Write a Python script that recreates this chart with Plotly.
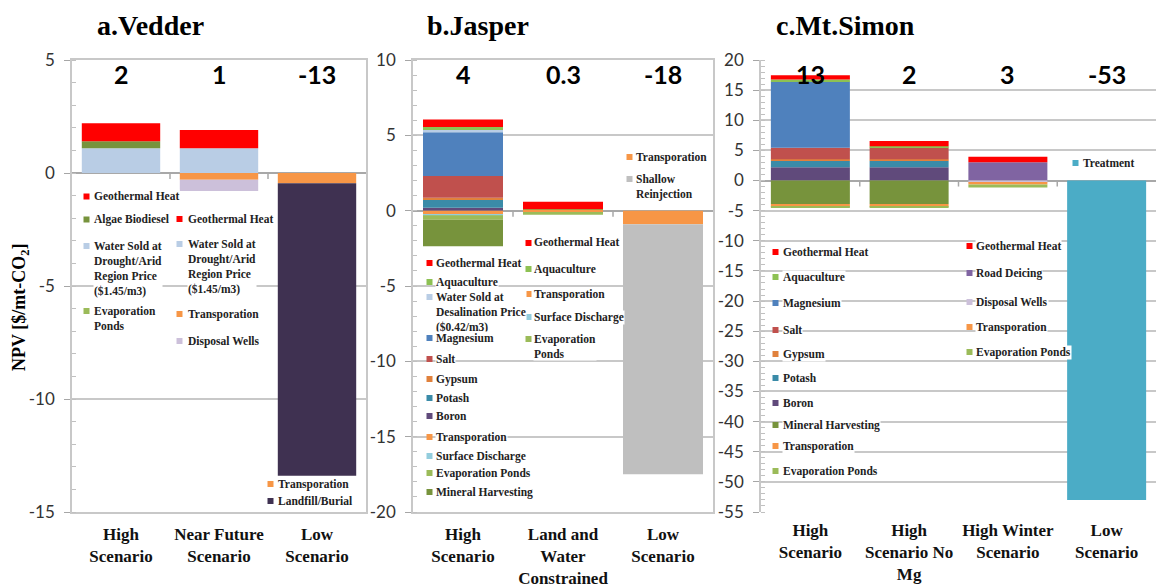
import plotly.graph_objects as go

W, H = 1156, 587

# ---------------- data ----------------
vedder_cats = ["High<br>Scenario", "Near Future<br>Scenario", "Low<br>Scenario"]
vedder_water = [1.1, 1.1, 0]
vedder_algae = [0.3, 0, 0]
vedder_geo = [0.8, 0.8, 0]
vedder_transport = [0, -0.3, -0.45]
vedder_disposal = [0, -0.5, 0]
vedder_landfill = [0, 0, -12.95]
vedder_totals = ["2", "1", "-13"]
vedder_yticks = [5, 0, -5, -10, -15]

jasper_cats = ["High<br>Scenario", "Land and<br>Water<br>Constrained", "Low<br>Scenario"]
jasper_boron = [0.2, 0, 0]
jasper_potash = [0.52, 0, 0]
jasper_gypsum = [0.13, 0, 0]
jasper_salt = [1.45, 0, 0]
jasper_magnesium = [2.9, 0, 0]
jasper_water = [0.15, 0, 0]
jasper_aqua = [0.2, 0.1, 0]
jasper_geo = [0.5, 0.5, 0]
jasper_transport = [-0.25, -0.12, -0.9]
jasper_surface = [-0.05, -0.03, 0]
jasper_evap = [-0.3, -0.12, 0]
jasper_mineral = [-1.77, 0, 0]
jasper_reinject = [0, 0, -16.6]
jasper_totals = ["4", "0.3", "-18"]
jasper_yticks = [10, 5, 0, -5, -10, -15, -20]

simon_cats = ["High<br>Scenario", "High<br>Scenario No<br>Mg", "High Winter<br>Scenario", "Low<br>Scenario"]
simon_boron = [2.2, 2.2, 0, 0]
simon_potash = [1.1, 1.1, 0, 0]
simon_gypsum = [0.25, 0.25, 0, 0]
simon_salt = [1.9, 1.95, 0, 0]
simon_magnesium = [11.0, 0, 0, 0]
simon_aqua = [0.3, 0.2, 0, 0]
simon_deicing = [0, 0, 3.05, 0]
simon_geo = [0.7, 0.85, 0.9, 0]
simon_disposal = [0, 0, -0.35, 0]
simon_mineral = [-3.9, -3.9, 0, 0]
simon_transport = [-0.45, -0.45, -0.3, 0]
simon_evap = [-0.15, -0.15, -0.5, 0]
simon_treatment = [0, 0, 0, -53]
simon_totals = ["13", "2", "3", "-53"]
simon_yticks = [20, 15, 10, 5, 0, -5, -10, -15, -20, -25, -30, -35, -40, -45, -50, -55]

panel_titles = ["a.Vedder", "b.Jasper", "c.Mt.Simon"]
y_title = "NPV [$/mt-CO<sub>2</sub>]"

# colours
C_GEO = "#FF0000"
C_ALGAE = "#77933C"
C_WATER = "#B9CDE5"
C_EVAP = "#9BBB59"
C_TRANS = "#F79646"
C_DISP = "#CCC0DA"
C_LAND = "#3F3151"
C_AQUA = "#8DC153"
C_MG = "#4F81BD"
C_SALT = "#C0504D"
C_GYP = "#E0813C"
C_POT = "#3A8BA8"
C_BORON = "#604A7B"
C_SURF = "#93CDDD"
C_MIN = "#77933C"
C_REINJ = "#BFBFBF"
C_DEICE = "#8064A2"
C_TREAT = "#4BACC6"

# legend texts
leg_a1 = [("Geothermal Heat", C_GEO), ("Algae Biodiesel", C_ALGAE),
          ("Water Sold at<br>Drought/Arid<br>Region Price<br>($1.45/m3)", C_WATER),
          ("Evaporation<br>Ponds", C_EVAP)]
leg_a2 = [("Geothermal Heat", C_GEO),
          ("Water Sold at<br>Drought/Arid<br>Region Price<br>($1.45/m3)", C_WATER),
          ("Transporation", C_TRANS), ("Disposal Wells", C_DISP)]
leg_a3 = [("Transporation", C_TRANS), ("Landfill/Burial", C_LAND)]
leg_b1 = [("Geothermal Heat", C_GEO), ("Aquaculture", C_AQUA),
          ("Water Sold at<br>Desalination Price<br>($0.42/m3)", C_WATER),
          ("Magnesium", C_MG), ("Salt", C_SALT), ("Gypsum", C_GYP), ("Potash", C_POT),
          ("Boron", C_BORON), ("Transporation", C_TRANS), ("Surface Discharge", C_SURF),
          ("Evaporation Ponds", C_EVAP), ("Mineral Harvesting", C_MIN)]
leg_b2 = [("Geothermal Heat", C_GEO), ("Aquaculture", C_AQUA), ("Transporation", C_TRANS),
          ("Surface Discharge", C_SURF), ("Evaporation<br>Ponds", C_EVAP)]
leg_b3 = [("Transporation", C_TRANS), ("Shallow<br>Reinjection", C_REINJ)]
leg_c1 = [("Geothermal Heat", C_GEO), ("Aquaculture", C_AQUA), ("Magnesium", C_MG),
          ("Salt", C_SALT), ("Gypsum", C_GYP), ("Potash", C_POT), ("Boron", C_BORON),
          ("Mineral Harvesting", C_MIN), ("Transporation", C_TRANS), ("Evaporation Ponds", C_EVAP)]
leg_c2 = [("Geothermal Heat", C_GEO), ("Road Deicing", C_DEICE), ("Disposal Wells", C_DISP),
          ("Transporation", C_TRANS), ("Evaporation Ponds", C_EVAP)]
leg_c3 = [("Treatment", C_TREAT)]

# ---------------- layout helpers ----------------
def PX(p):
    return p / W


def PY(p):
    return 1 - p / H


TOP, BOT = 60, 512
GRID = "#C8C8C8"
TICKC = "#A6A6A6"
SERIF = "Liberation Serif, Times New Roman, serif"
SANS = "Lato, Liberation Sans, sans-serif"

fig = go.Figure()

panels = [
    dict(ax="", cats=vedder_cats, yticks=vedder_yticks, left=72, right=366, frame=True,
         series=[(vedder_water, C_WATER), (vedder_algae, C_ALGAE), (vedder_geo, C_GEO),
                 (vedder_transport, C_TRANS), (vedder_disposal, C_DISP), (vedder_landfill, C_LAND)],
         totals=vedder_totals, title_x=150),
    dict(ax="2", cats=jasper_cats, yticks=jasper_yticks, left=413, right=713, frame=True,
         series=[(jasper_boron, C_BORON), (jasper_potash, C_POT), (jasper_gypsum, C_GYP),
                 (jasper_salt, C_SALT), (jasper_magnesium, C_MG), (jasper_water, C_WATER),
                 (jasper_aqua, C_AQUA), (jasper_geo, C_GEO),
                 (jasper_transport, C_TRANS), (jasper_surface, C_SURF), (jasper_evap, C_EVAP),
                 (jasper_mineral, C_MIN), (jasper_reinject, C_REINJ)],
         totals=jasper_totals, title_x=478),
    dict(ax="3", cats=simon_cats, yticks=simon_yticks, left=761, right=W, frame=False,
         series=[(simon_boron, C_BORON), (simon_potash, C_POT), (simon_gypsum, C_GYP),
                 (simon_salt, C_SALT), (simon_magnesium, C_MG), (simon_aqua, C_AQUA),
                 (simon_deicing, C_DEICE), (simon_geo, C_GEO),
                 (simon_disposal, C_DISP), (simon_mineral, C_MIN), (simon_transport, C_TRANS),
                 (simon_evap, C_EVAP), (simon_treatment, C_TREAT)],
         totals=simon_totals, title_x=845),
]

shapes = []
annotations = []

for i, p in enumerate(panels):
    n = len(p["cats"])
    xs = list(range(n))
    xa, ya = "x" + p["ax"], "y" + p["ax"]
    rng = [min(p["yticks"]), max(p["yticks"])]
    for vals, col in p["series"]:
        fig.add_trace(go.Bar(x=xs, y=vals, marker=dict(color=col, line=dict(width=0)),
                             xaxis=xa, yaxis=ya, showlegend=False, hoverinfo="skip"))
    xkey = "xaxis" + p["ax"]
    ykey = "yaxis" + p["ax"]
    fig.layout[xkey] = dict(
        domain=[PX(p["left"]), min(1.0, PX(p["right"]))], anchor=ya, automargin=False,
        range=[-0.5, n - 0.5], tickvals=xs, ticktext=p["cats"], ticks="",
        ticklabelstandoff=6,
        showgrid=False, zeroline=False, showline=p["frame"], mirror=p["frame"], linecolor=GRID,
        linewidth=1.5, tickfont=dict(family=SERIF, size=17, color="#111", weight="bold"),
        fixedrange=True)
    fig.layout[ykey] = dict(
        domain=[PY(BOT), PY(TOP)], anchor=xa, range=rng, automargin=False,
        tickvals=p["yticks"], ticktext=[str(v) for v in p["yticks"]],
        showgrid=True, gridcolor=GRID, gridwidth=1.5,
        zeroline=True, zerolinecolor="#A8A8A8", zerolinewidth=1.5,
        ticks="outside", ticklen=6, tickcolor=TICKC, ticklabelstandoff=6,
        minor=dict(tick0=0, dtick=1, ticks="inside", ticklen=4, tickcolor="#C0C0C0",
                   showgrid=False),
        showline=True, mirror=p["frame"], linecolor=GRID, linewidth=1.5,
        tickfont=dict(family=SANS, size=17, color="#333"), fixedrange=True)
    # category boundary tick marks on the zero line
    scale = (BOT - TOP) / (rng[1] - rng[0])
    for k in range(n - 1):
        shapes.append(dict(type="line", xref=xa, yref=ya, x0=k + 0.5, x1=k + 0.5,
                           y0=0, y1=-6 / scale, line=dict(color="#A8A8A8", width=1.5)))
    # totals
    for k, t in enumerate(p["totals"]):
        annotations.append(dict(xref=xa, yref="paper", x=k, y=PY(74), text="<b>" + t + "</b>",
                                showarrow=False, xanchor="center", yanchor="middle",
                                font=dict(family=SANS, size=25, color="black")))
    # title
    annotations.append(dict(xref="paper", yref="paper", x=PX(p["title_x"]), y=PY(25),
                            text="<b>" + panel_titles[i] + "</b>", showarrow=False,
                            xanchor="center", yanchor="middle",
                            font=dict(family=SERIF, size=28, color="black")))

# y axis title
annotations.append(dict(xref="paper", yref="paper", x=PX(20), y=PY(308),
                        text="<b>" + y_title + "</b>",
                        textangle=-90, showarrow=False, xanchor="center", yanchor="middle",
                        font=dict(family=SERIF, size=18, color="black")))

LEG_FONT = dict(family=SERIF, size=11.5, color="#222")


def add_legend(entries, mx, tx, ys):
    for (label, color), y in zip(entries, ys):
        shapes.append(dict(type="rect", xref="paper", yref="paper",
                           x0=PX(mx - 3), x1=PX(mx + 3), y0=PY(y + 3), y1=PY(y - 3),
                           fillcolor=color, line=dict(width=0), layer="above"))
        annotations.append(dict(xref="paper", yref="paper", x=PX(tx), y=PY(y - 7.5),
                                xanchor="left", yanchor="top", text="<b>" + label + "</b>",
                                showarrow=False, align="left", font=LEG_FONT,
                                bgcolor="white", borderpad=0))


add_legend(leg_a1, 86.5, 93, [196.5, 219.5, 246, 311])
add_legend(leg_a2, 179.5, 187, [219, 244, 314, 341])
add_legend(leg_a3, 270.5, 277, [484, 501])
add_legend(leg_b1, 429.5, 435, [263, 282, 297, 338, 359, 379, 398, 416, 437, 456, 473, 492])
add_legend(leg_b2, 528.5, 533, [243, 269, 294, 317, 339])
add_legend(leg_b3, 629.5, 635, [157, 179])
add_legend(leg_c1, 775.5, 782, [252, 277, 303, 330, 354, 378, 403, 425, 446, 471])
add_legend(leg_c2, 969.5, 975, [246, 273, 302, 327, 352])
add_legend(leg_c3, 1075.5, 1082, [163])

fig.update_layout(
    width=W, height=H, margin=dict(l=0, r=0, t=0, b=0, autoexpand=False),
    barmode="relative", bargap=0.2,
    plot_bgcolor="white", paper_bgcolor="white", showlegend=False,
    shapes=shapes, annotations=annotations,
)

fig.write_html("out.html", config={"displayModeBar": False},
               post_script="document.body.style.margin='0';document.body.style.overflow='hidden';")
